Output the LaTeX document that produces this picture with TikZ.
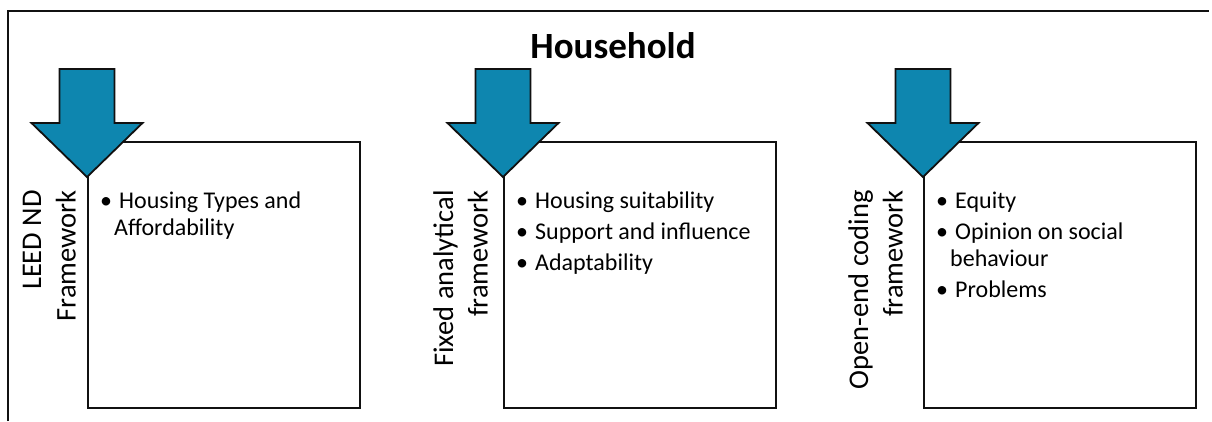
\documentclass[tikz,border=0pt]{standalone}
\usepackage{fontspec}
\setmainfont{Carlito}
\definecolor{arrowteal}{HTML}{0E86AF}
\definecolor{frameblack}{HTML}{111111}

\newcommand{\bitem}[1]{\makebox[26pt][c]{\textbullet}#1}
\newcommand{\wrapline}{\hspace*{21pt}}

% panel texts
\newcommand{\lblA}{LEED ND\\Framework}
\newcommand{\lblB}{Fixed analytical\\framework}
\newcommand{\lblC}{Open-end coding\\framework}
\newcommand{\itemsA}{\bitem{Housing Types and}\\\wrapline Affordability}
\newcommand{\itemsB}{\bitem{Housing suitability}\\[4pt]\bitem{Support and influence}\\[4pt]\bitem{Adaptability}}
\newcommand{\itemsC}{\bitem{Equity}\\[4pt]\bitem{Opinion on social}\\\wrapline behaviour\\[4pt]\bitem{Problems}}

\begin{document}
\begin{tikzpicture}[
    x=1pt, y=1pt,
    panel/.style={draw=frameblack, line width=2.4pt, minimum width=272pt, minimum height=266pt, inner sep=0pt, anchor=north west},
    downarrow/.style={fill=arrowteal, draw=frameblack, line width=1.8pt, line join=miter},
    sidelabel/.style={rotate=90, anchor=south east, align=right, inner sep=0pt, font=\fontsize{28.5}{34.5}\selectfont},
    itemlist/.style={anchor=north west, align=left, inner sep=0pt, font=\fontsize{24}{27}\selectfont}
]

\useasboundingbox (0,0) rectangle (1212,-421);

\pgfmathsetmacro{\BoxTop}{-141}

% Outer frame (only top and left edges fall inside the page)
\draw[line width=2pt, frameblack] (8,-421) -- (8,-11) -- (1209,-11);

% Title
\node[font=\fontsize{37}{44}\selectfont\bfseries, anchor=base] (title) at (613,-58) {Household};

% ---------------------------------------------------------
% Three framework panels
% ---------------------------------------------------------
\foreach \i/\x/\off/\lbl/\items in {A/87/11/\lblA/\itemsA, B/503/15/\lblB/\itemsB, C/923/20/\lblC/\itemsC} {
    % Box
    \node[panel] (box\i) at (\x,\BoxTop) {};

    % Arrow over the top left corner
    \draw[downarrow] (\x-27.5,-69) -- (\x+27.5,-69) -- (\x+27.5,-123) -- (\x+55.5,-123)
        -- (\x,-177) -- (\x-55.5,-123) -- (\x-27.5,-123) -- cycle;

    % Rotated framework name
    \node[sidelabel] (lbl\i) at (\x-\off,-190) {\lbl};

    % Bullet list
    \node[itemlist] (items\i) at (\x+6,-189.1) {\strut\items};
}

\end{tikzpicture}
\end{document}
